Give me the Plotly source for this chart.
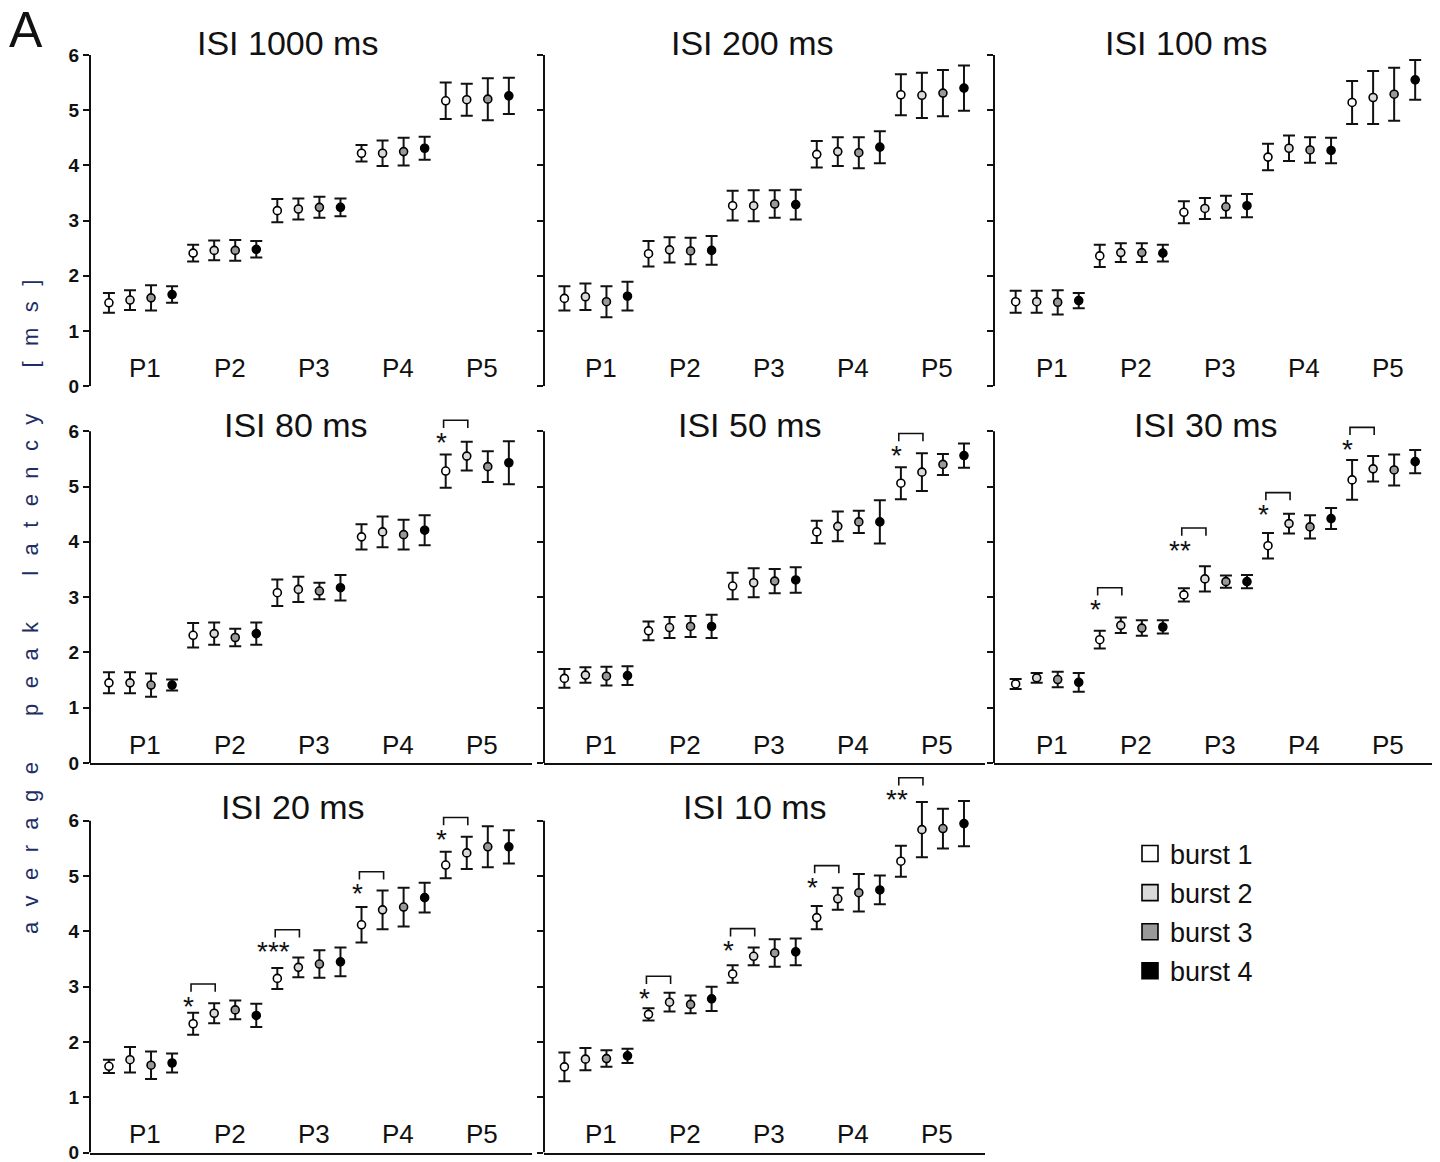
import plotly.graph_objects as go

# ---------------- data ----------------
panel_titles = ["ISI 1000 ms", "ISI 200 ms", "ISI 100 ms",
                "ISI 80 ms", "ISI 50 ms", "ISI 30 ms",
                "ISI 20 ms", "ISI 10 ms"]
peak_labels = ["P1", "P2", "P3", "P4", "P5"]
burst_names = ["burst 1", "burst 2", "burst 3", "burst 4"]

# mean latency [ms], rows = P1..P5, columns = burst 1..4
mean_isi1000 = [[1.51, 1.56, 1.60, 1.66], [2.41, 2.46, 2.46, 2.48], [3.18, 3.21, 3.24, 3.24],
                [4.22, 4.22, 4.25, 4.31], [5.17, 5.19, 5.20, 5.26]]
err_isi1000 = [[0.18, 0.18, 0.23, 0.15], [0.15, 0.18, 0.19, 0.15], [0.21, 0.19, 0.19, 0.16],
               [0.15, 0.23, 0.25, 0.21], [0.33, 0.29, 0.38, 0.33]]

mean_isi200 = [[1.59, 1.62, 1.53, 1.63], [2.40, 2.47, 2.45, 2.46], [3.27, 3.27, 3.30, 3.29],
               [4.20, 4.25, 4.23, 4.33], [5.28, 5.27, 5.31, 5.40]]
err_isi200 = [[0.22, 0.24, 0.28, 0.26], [0.23, 0.23, 0.24, 0.26], [0.27, 0.28, 0.25, 0.27],
              [0.24, 0.26, 0.28, 0.29], [0.37, 0.41, 0.42, 0.41]]

mean_isi100 = [[1.53, 1.53, 1.52, 1.55], [2.36, 2.42, 2.42, 2.41], [3.15, 3.22, 3.25, 3.27],
               [4.15, 4.31, 4.28, 4.27], [5.14, 5.23, 5.29, 5.55]]
err_isi100 = [[0.20, 0.20, 0.22, 0.14], [0.20, 0.17, 0.17, 0.15], [0.20, 0.19, 0.20, 0.21],
              [0.24, 0.23, 0.23, 0.23], [0.39, 0.48, 0.48, 0.36]]

mean_isi80 = [[1.45, 1.45, 1.41, 1.41], [2.31, 2.34, 2.27, 2.34], [3.08, 3.14, 3.11, 3.17],
              [4.09, 4.18, 4.13, 4.21], [5.28, 5.55, 5.36, 5.43]]
err_isi80 = [[0.19, 0.19, 0.21, 0.10], [0.22, 0.20, 0.16, 0.20], [0.24, 0.23, 0.15, 0.23],
             [0.23, 0.28, 0.27, 0.27], [0.30, 0.26, 0.28, 0.39]]

mean_isi50 = [[1.53, 1.59, 1.57, 1.58], [2.39, 2.45, 2.47, 2.47], [3.20, 3.26, 3.29, 3.31],
              [4.18, 4.28, 4.36, 4.36], [5.06, 5.26, 5.40, 5.56]]
err_isi50 = [[0.17, 0.14, 0.17, 0.17], [0.17, 0.19, 0.19, 0.21], [0.24, 0.26, 0.22, 0.23],
             [0.20, 0.27, 0.20, 0.39], [0.29, 0.34, 0.19, 0.22]]

mean_isi30 = [[1.43, 1.54, 1.51, 1.46], [2.23, 2.49, 2.44, 2.46], [3.04, 3.33, 3.28, 3.28],
              [3.93, 4.33, 4.27, 4.42], [5.12, 5.32, 5.30, 5.45]]
err_isi30 = [[0.09, 0.09, 0.14, 0.17], [0.16, 0.14, 0.14, 0.12], [0.12, 0.23, 0.11, 0.12],
             [0.23, 0.18, 0.21, 0.19], [0.36, 0.23, 0.28, 0.21]]

mean_isi20 = [[1.56, 1.68, 1.58, 1.62], [2.33, 2.52, 2.58, 2.48], [3.15, 3.35, 3.41, 3.45],
              [4.12, 4.39, 4.44, 4.61], [5.20, 5.42, 5.53, 5.53]]
err_isi20 = [[0.12, 0.23, 0.25, 0.17], [0.20, 0.18, 0.17, 0.21], [0.19, 0.18, 0.25, 0.26],
             [0.32, 0.35, 0.35, 0.27], [0.24, 0.29, 0.37, 0.30]]

mean_isi10 = [[1.55, 1.69, 1.70, 1.75], [2.50, 2.72, 2.68, 2.78], [3.23, 3.55, 3.61, 3.63],
              [4.25, 4.59, 4.70, 4.75], [5.27, 5.84, 5.86, 5.95]]
err_isi10 = [[0.26, 0.20, 0.15, 0.13], [0.11, 0.17, 0.16, 0.22], [0.16, 0.16, 0.25, 0.24],
             [0.21, 0.20, 0.34, 0.26], [0.28, 0.50, 0.36, 0.41]]

# significance between burst 1 and burst 2: (peak number, stars, bracket level)
sig_isi80 = [(5, "*", 6.20)]
sig_isi50 = [(5, "*", 5.96)]
sig_isi30 = [(2, "*", 3.17), (3, "**", 4.25), (4, "*", 4.89), (5, "*", 6.07)]
sig_isi20 = [(2, "*", 3.05), (3, "***", 4.03), (4, "*", 5.08), (5, "*", 6.06)]
sig_isi10 = [(2, "*", 3.19), (3, "*", 4.05), (4, "*", 5.19), (5, "**", 6.78)]

y_tick_values = [0, 1, 2, 3, 4, 5, 6]

panels = [
    (mean_isi1000, err_isi1000, []),
    (mean_isi200, err_isi200, []),
    (mean_isi100, err_isi100, []),
    (mean_isi80, err_isi80, sig_isi80),
    (mean_isi50, err_isi50, sig_isi50),
    (mean_isi30, err_isi30, sig_isi30),
    (mean_isi20, err_isi20, sig_isi20),
    (mean_isi10, err_isi10, sig_isi10),
]

# ---------------- styling / layout ----------------
W, H = 1440, 1162          # target picture size (layout fractions are computed on it)
PAGE_H = 1175              # page height
FONT = "Liberation Sans, Arial, sans-serif"
burst_fill = ["#ffffff", "#d9d9d9", "#999999", "#000000"]
col_px = [(90.0, 532.0), (544.0, 985.0), (994.0, 1432.0)]
x_ranges = [[-0.9, 20.1], [-0.97, 20.0], [-1.03, 19.8]]
row_px = [(385.5, 55.1), (761.7, 55.2), (1150.6, 55.2)]  # pixel of y=0, px per unit
YMAX = 6.85
title_y = [6.22, 6.11, 6.25]
title_x = [8.46, 8.93, 8.12, 8.89, 8.84, 9.03, 8.74, 9.08]

fig = go.Figure()
shapes = []
annotations = []
layout_axes = {}

for k, (means, errs, sigs) in enumerate(panels):
    r, c = divmod(k, 3)
    sfx = "" if k == 0 else str(k + 1)
    xa, ya = "x" + sfx, "y" + sfx
    x0p, x1p = col_px[c]
    y0p, ppu = row_px[r]
    ytop = y0p - YMAX * ppu
    layout_axes["xaxis" + sfx] = dict(
        domain=[x0p / W, x1p / W], range=x_ranges[c], anchor=ya,
        showline=True, linecolor="#111111", linewidth=2, showgrid=False,
        zeroline=False, showticklabels=False, ticks="")
    layout_axes["yaxis" + sfx] = dict(
        domain=[1 - y0p / H, 1 - ytop / H], range=[0, YMAX], anchor=xa,
        showline=False, showgrid=False, zeroline=False,
        tickvals=y_tick_values, ticks="outside", ticklen=6, tickwidth=2,
        tickcolor="#111111", showticklabels=(c == 0),
        tickfont=dict(family=FONT, size=19, color="#111111", weight="bold"))
    # y axis line from 0 to 6 only
    shapes.append(dict(type="line", xref=xa + " domain", yref=ya, x0=0, x1=0,
                       y0=0, y1=6, line=dict(color="#111111", width=2)))
    for b in range(4):
        xs = [p * 4 + b for p in range(5)]
        fig.add_trace(go.Scatter(
            x=xs, y=[means[p][b] for p in range(5)], xaxis=xa, yaxis=ya,
            mode="markers", showlegend=False, name=burst_names[b],
            marker=dict(symbol="circle", size=8, color=burst_fill[b],
                        line=dict(color="#000000", width=1.6)),
            error_y=dict(type="data", symmetric=True,
                         array=[errs[p][b] for p in range(5)],
                         color="#111111", thickness=2, width=6)))
    for p, lab in enumerate(peak_labels):
        annotations.append(dict(text=lab, x=p * 4 + 1.73, y=0.33, xref=xa, yref=ya,
                                showarrow=False, xanchor="center", yanchor="middle",
                                font=dict(family=FONT, size=26, color="#111111")))
    annotations.append(dict(text=panel_titles[k], x=title_x[k], y=title_y[r], xref=xa, yref=ya,
                            showarrow=False, xanchor="center", yanchor="middle",
                            font=dict(family=FONT, size=34, color="#111111")))
    for (pk, stars, lvl) in sigs:
        b1x = (pk - 1) * 4
        b2x = b1x + 1
        shapes.append(dict(type="path", xref=xa, yref=ya,
                           path=f"M {b1x - 0.1},{lvl - 0.14} L {b1x - 0.1},{lvl} "
                                f"L {b2x + 0.05},{lvl} L {b2x + 0.05},{lvl - 0.14}",
                           line=dict(color="#111111", width=1.6)))
        annotations.append(dict(text=stars, x=b1x - 0.2, y=lvl - 0.4, xref=xa, yref=ya,
                                showarrow=False, xanchor="center", yanchor="middle",
                                font=dict(family=FONT, size=28, color="#111111")))

# legend entries
for b in range(4):
    fig.add_trace(go.Scatter(
        x=[None], y=[None], mode="markers", name=burst_names[b],
        legendgroup=burst_names[b], showlegend=True,
        marker=dict(symbol="square", size=16, color=burst_fill[b],
                    line=dict(color="#000000", width=1.6))))

annotations.append(dict(text="A", x=7 / W, y=1.0, xref="paper", yref="paper",
                        showarrow=False, xanchor="left", yanchor="top",
                        font=dict(family=FONT, size=50, color="#111111")))
sp = "\u2002\u2009"
ytitle = (sp * 3).join(sp.join(list(w)) for w in ["average", "peak", "latency", "[ms]"])
annotations.append(dict(text=ytitle, x=30 / W, y=1 - 606 / H, xref="paper", yref="paper",
                        showarrow=False, textangle=-90, xanchor="center", yanchor="middle",
                        font=dict(family=FONT, size=22, color="#1d2d66")))

fig.update_layout(
    width=W, height=PAGE_H, margin=dict(l=0, r=0, t=0, b=0),
    paper_bgcolor="white", plot_bgcolor="white",
    shapes=shapes, annotations=annotations,
    showlegend=True,
    legend=dict(x=1130 / W, y=1 - 828 / H, xanchor="left", yanchor="top",
                font=dict(family=FONT, size=27, color="#111111"),
                tracegroupgap=1, bgcolor="rgba(0,0,0,0)", itemwidth=30),
    **layout_axes)

fig.write_html("out.html", config={"displayModeBar": False},
               post_script="document.body.style.margin='0';")
